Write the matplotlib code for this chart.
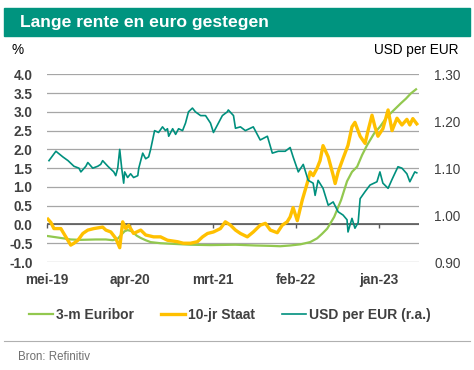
import matplotlib.pyplot as plt
import matplotlib.patches as mpatches
import pandas as pd

plt.rcParams['font.family'] = ['Liberation Sans', 'DejaVu Sans']
plt.rcParams['axes.unicode_minus'] = False

# 3-m Euribor (%)
euribor_dates = [
    "2019-05-05", "2019-06-26", "2019-08-05", "2019-09-15", "2019-11-14", "2019-12-25",
    "2020-01-22", "2020-02-11", "2020-02-23", "2020-03-10", "2020-03-22", "2020-04-07",
    "2020-04-28", "2020-05-14", "2020-06-03", "2020-06-23", "2020-08-02", "2020-10-02",
    "2020-12-01", "2021-02-20", "2021-06-01", "2021-08-20", "2021-10-20", "2021-11-29",
    "2022-01-08", "2022-02-18", "2022-03-30", "2022-04-27", "2022-05-17", "2022-06-07",
    "2022-07-05", "2022-08-02", "2022-08-26", "2022-09-15", "2022-10-06", "2022-10-26",
    "2022-11-15", "2022-12-14", "2023-01-06", "2023-02-04", "2023-03-04", "2023-04-01",
    "2023-04-21", "2023-05-11", "2023-06-01",
]
euribor = [
    -0.31, -0.36, -0.40, -0.41, -0.40, -0.40,
    -0.42, -0.38, -0.29, -0.18, -0.15, -0.18,
    -0.30, -0.36, -0.42, -0.47, -0.50, -0.52,
    -0.54, -0.55, -0.54, -0.56, -0.57, -0.58,
    -0.56, -0.53, -0.47, -0.37, -0.25, -0.11,
    0.20, 0.65, 1.15, 1.40, 1.54, 1.85,
    2.11, 2.43, 2.60, 2.87, 3.05, 3.23,
    3.35, 3.49, 3.60,
]

# 10-jr Staat (%)
staat_dates = [
    "2019-05-05", "2019-05-17", "2019-05-29", "2019-06-26", "2019-07-16", "2019-08-05",
    "2019-08-18", "2019-09-03", "2019-09-23", "2019-10-13", "2019-11-06", "2019-12-12",
    "2019-12-25", "2020-01-14", "2020-02-03", "2020-02-19", "2020-03-02", "2020-03-14",
    "2020-03-26", "2020-04-15", "2020-05-14", "2020-06-03", "2020-07-05", "2020-08-02",
    "2020-08-30", "2020-10-10", "2020-11-02", "2020-12-01", "2020-12-29", "2021-01-19",
    "2021-02-08", "2021-03-04", "2021-04-01", "2021-04-21", "2021-05-12", "2021-06-01",
    "2021-06-21", "2021-07-19", "2021-08-12", "2021-09-09", "2021-09-30", "2021-10-20",
    "2021-11-17", "2021-12-07", "2021-12-27", "2022-01-08", "2022-01-20", "2022-02-06",
    "2022-02-26", "2022-03-18", "2022-03-30", "2022-04-11", "2022-04-27", "2022-05-09",
    "2022-05-21", "2022-06-11", "2022-07-01", "2022-07-09", "2022-07-21", "2022-08-10",
    "2022-08-30", "2022-09-15", "2022-09-27", "2022-10-18", "2022-11-07", "2022-11-19",
    "2022-12-05", "2022-12-17", "2022-12-29", "2023-01-18", "2023-02-08", "2023-02-24",
    "2023-03-16", "2023-04-05", "2023-04-25", "2023-05-07", "2023-05-19", "2023-06-04",
]
staat = [
    0.14, 0.05, -0.11, -0.11, -0.33, -0.55,
    -0.50, -0.42, -0.24, -0.15, -0.11, -0.07,
    -0.15, -0.20, -0.37, -0.62, 0.07, -0.11,
    -0.02, -0.24, -0.15, -0.28, -0.33, -0.33,
    -0.42, -0.46, -0.50, -0.50, -0.46, -0.33,
    -0.24, -0.20, -0.11, 0.07, -0.02, -0.15,
    -0.24, -0.33, -0.20, -0.02, 0.03, -0.15,
    -0.22, -0.02, 0.07, 0.20, 0.45, 0.10,
    0.65, 1.10, 1.40, 1.30, 1.50, 1.70,
    2.10, 1.80, 1.31, 1.09, 1.40, 1.76,
    2.11, 2.60, 2.72, 2.35, 2.16, 2.50,
    2.91, 2.60, 2.35, 2.55, 3.05, 2.50,
    2.83, 2.65, 2.80, 2.65, 2.82, 2.68,
]

# USD per EUR (rechteras)
usd_dates = [
    "2019-05-09", "2019-06-06", "2019-07-04", "2019-07-25", "2019-08-18", "2019-09-07",
    "2019-09-15", "2019-10-05", "2019-10-13", "2019-11-02", "2019-11-22", "2019-12-04",
    "2019-12-12", "2020-01-02", "2020-01-26", "2020-02-03", "2020-02-11", "2020-02-19",
    "2020-02-27", "2020-03-06", "2020-03-10", "2020-03-22", "2020-04-03", "2020-04-15",
    "2020-05-02", "2020-05-06", "2020-05-22", "2020-06-03", "2020-06-15", "2020-06-23",
    "2020-07-09", "2020-07-25", "2020-08-10", "2020-08-22", "2020-08-30", "2020-09-04",
    "2020-09-20", "2020-10-02", "2020-10-14", "2020-10-30", "2020-11-11", "2020-11-23",
    "2020-12-09", "2020-12-21", "2021-01-11", "2021-01-31", "2021-02-20", "2021-03-04",
    "2021-03-20", "2021-04-09", "2021-04-29", "2021-05-03", "2021-05-24", "2021-06-01",
    "2021-06-21", "2021-07-11", "2021-08-12", "2021-09-09", "2021-10-08", "2021-10-28",
    "2021-11-21", "2021-12-19", "2022-01-08", "2022-01-20", "2022-02-10", "2022-03-02",
    "2022-03-22", "2022-04-11", "2022-04-19", "2022-05-01", "2022-05-21", "2022-06-11",
    "2022-07-01", "2022-07-21", "2022-08-10", "2022-08-26", "2022-08-30", "2022-09-15",
    "2022-09-27", "2022-10-10", "2022-10-18", "2022-11-07", "2022-11-27", "2022-12-25",
    "2023-01-06", "2023-01-18", "2023-02-08", "2023-02-24", "2023-03-20", "2023-04-05",
    "2023-04-25", "2023-05-07", "2023-05-27", "2023-06-04",
]
usd_eur = [
    1.116, 1.136, 1.124, 1.116, 1.104, 1.100,
    1.092, 1.104, 1.112, 1.100, 1.104, 1.108,
    1.116, 1.104, 1.092, 1.084, 1.100, 1.140,
    1.100, 1.068, 1.092, 1.080, 1.088, 1.080,
    1.084, 1.100, 1.132, 1.120, 1.124, 1.140,
    1.180, 1.176, 1.188, 1.180, 1.184, 1.168,
    1.184, 1.172, 1.184, 1.180, 1.196, 1.220,
    1.228, 1.220, 1.212, 1.212, 1.196, 1.176,
    1.192, 1.212, 1.220, 1.224, 1.212, 1.185,
    1.188, 1.180, 1.188, 1.160, 1.168, 1.132,
    1.136, 1.136, 1.144, 1.124, 1.092, 1.108,
    1.074, 1.068, 1.042, 1.074, 1.057, 1.021,
    1.028, 1.007, 1.000, 0.990, 0.964, 0.993,
    0.972, 0.984, 1.035, 1.050, 1.064, 1.071,
    1.092, 1.068, 1.057, 1.076, 1.103, 1.100,
    1.088, 1.071, 1.092, 1.090,
]

tick_dates = ["2019-05-01", "2020-04-01", "2021-03-01", "2022-02-01", "2023-01-01"]
tick_labels = ["mei-19", "apr-20", "mrt-21", "feb-22", "jan-23"]
left_ticks = [-1.0, -0.5, 0.0, 0.5, 1.0, 1.5, 2.0, 2.5, 3.0, 3.5, 4.0]
right_ticks = [0.90, 1.00, 1.10, 1.20, 1.30]

c_green = '#92c84f'
c_yellow = '#ffc000'
c_teal = '#00907e'
c_text = '#404040'

fig = plt.figure(figsize=(4.74, 3.70), dpi=100)
fig.patch.set_facecolor('white')

# title banner
fig.patches.append(mpatches.Rectangle((4 / 474, 1 - 36 / 370), 466 / 474, 28 / 370,
                                      transform=fig.transFigure, color='#00947f', zorder=0))
fig.text(20 / 474, 1 - 22.5 / 370, "Lange rente en euro gestegen", color='white',
         fontsize=12.6, fontweight='bold', va='center', ha='left')
fig.text(12 / 474, 1 - 50 / 370, "%", color='black', fontsize=9.8, va='center', ha='left')
fig.text(459 / 474, 1 - 50 / 370, "USD per EUR", color='black', fontsize=9.8, va='center', ha='right')

ax = fig.add_axes([47 / 474, 1 - 262 / 370, 372 / 474, 187.7 / 370])
ax2 = ax.twinx()

for s in list(ax.spines.values()) + list(ax2.spines.values()):
    s.set_visible(False)

for v in left_ticks:
    ax.axhline(v, color='#a6a6a6', linewidth=0.9, zorder=0)
ax.axhline(0, color='#595959', linewidth=1.2, zorder=1)

l1, = ax.plot(pd.to_datetime(euribor_dates), euribor, color=c_green, linewidth=1.6, zorder=3)
l2, = ax.plot(pd.to_datetime(staat_dates), staat, color=c_yellow, linewidth=2.4, zorder=4)
l3, = ax2.plot(pd.to_datetime(usd_dates), usd_eur, color=c_teal, linewidth=1.2, zorder=3)

xmin, xmax = pd.Timestamp("2019-05-01"), pd.Timestamp("2023-06-13")
ax.set_xlim(xmin, xmax)
ax.set_ylim(-1.0, 4.0)
ax2.set_ylim(0.90, 1.30)

ax.set_yticks(left_ticks)
ax.set_yticklabels([f"{v:.1f}" for v in left_ticks])
ax.tick_params(axis='y', length=0, pad=10.5, labelsize=9.8, labelcolor=c_text)
for t in ax.get_yticklabels():
    t.set_fontweight('bold')

ax2.set_yticks(right_ticks)
ax2.set_yticklabels([f"{v:.2f}" for v in right_ticks])
ax2.tick_params(axis='y', length=0, pad=11, labelsize=9.8, labelcolor=c_text)

ax.set_xticks(pd.to_datetime(tick_dates))
ax.set_xticklabels(tick_labels)
ax.tick_params(axis='x', length=0, pad=8, labelsize=9.8, labelcolor=c_text)
for t in ax.get_xticklabels():
    t.set_fontweight('bold')

# small tick marks on the zero line
zero_ax = ax.secondary_xaxis(0.2)
zero_ax.set_xticks(pd.to_datetime(tick_dates))
zero_ax.set_xticklabels([])
zero_ax.tick_params(axis='x', length=3, width=1, color='#595959', direction='out')
zero_ax.spines['bottom'].set_visible(False)

fig.legend([l1, l2, l3], ["3-m Euribor", "10-jr Staat", "USD per EUR (r.a.)"],
           loc='center', bbox_to_anchor=(0.485, 1 - 315 / 370), ncol=3, frameon=False,
           handlelength=1.7, handletextpad=0.2, columnspacing=2.0,
           prop={'size': 10, 'weight': 'bold'}, labelcolor=c_text)

fig.add_artist(plt.Line2D([4 / 474, 470 / 474], [1 - 341 / 370, 1 - 341 / 370],
                          transform=fig.transFigure, color='#b0b0b0', linewidth=0.8))
fig.text(18 / 474, 1 - 357 / 370, "Bron: Refinitiv", color='#707070', fontsize=8.3,
         va='center', ha='left')

fig.savefig('out.png', dpi=100)
